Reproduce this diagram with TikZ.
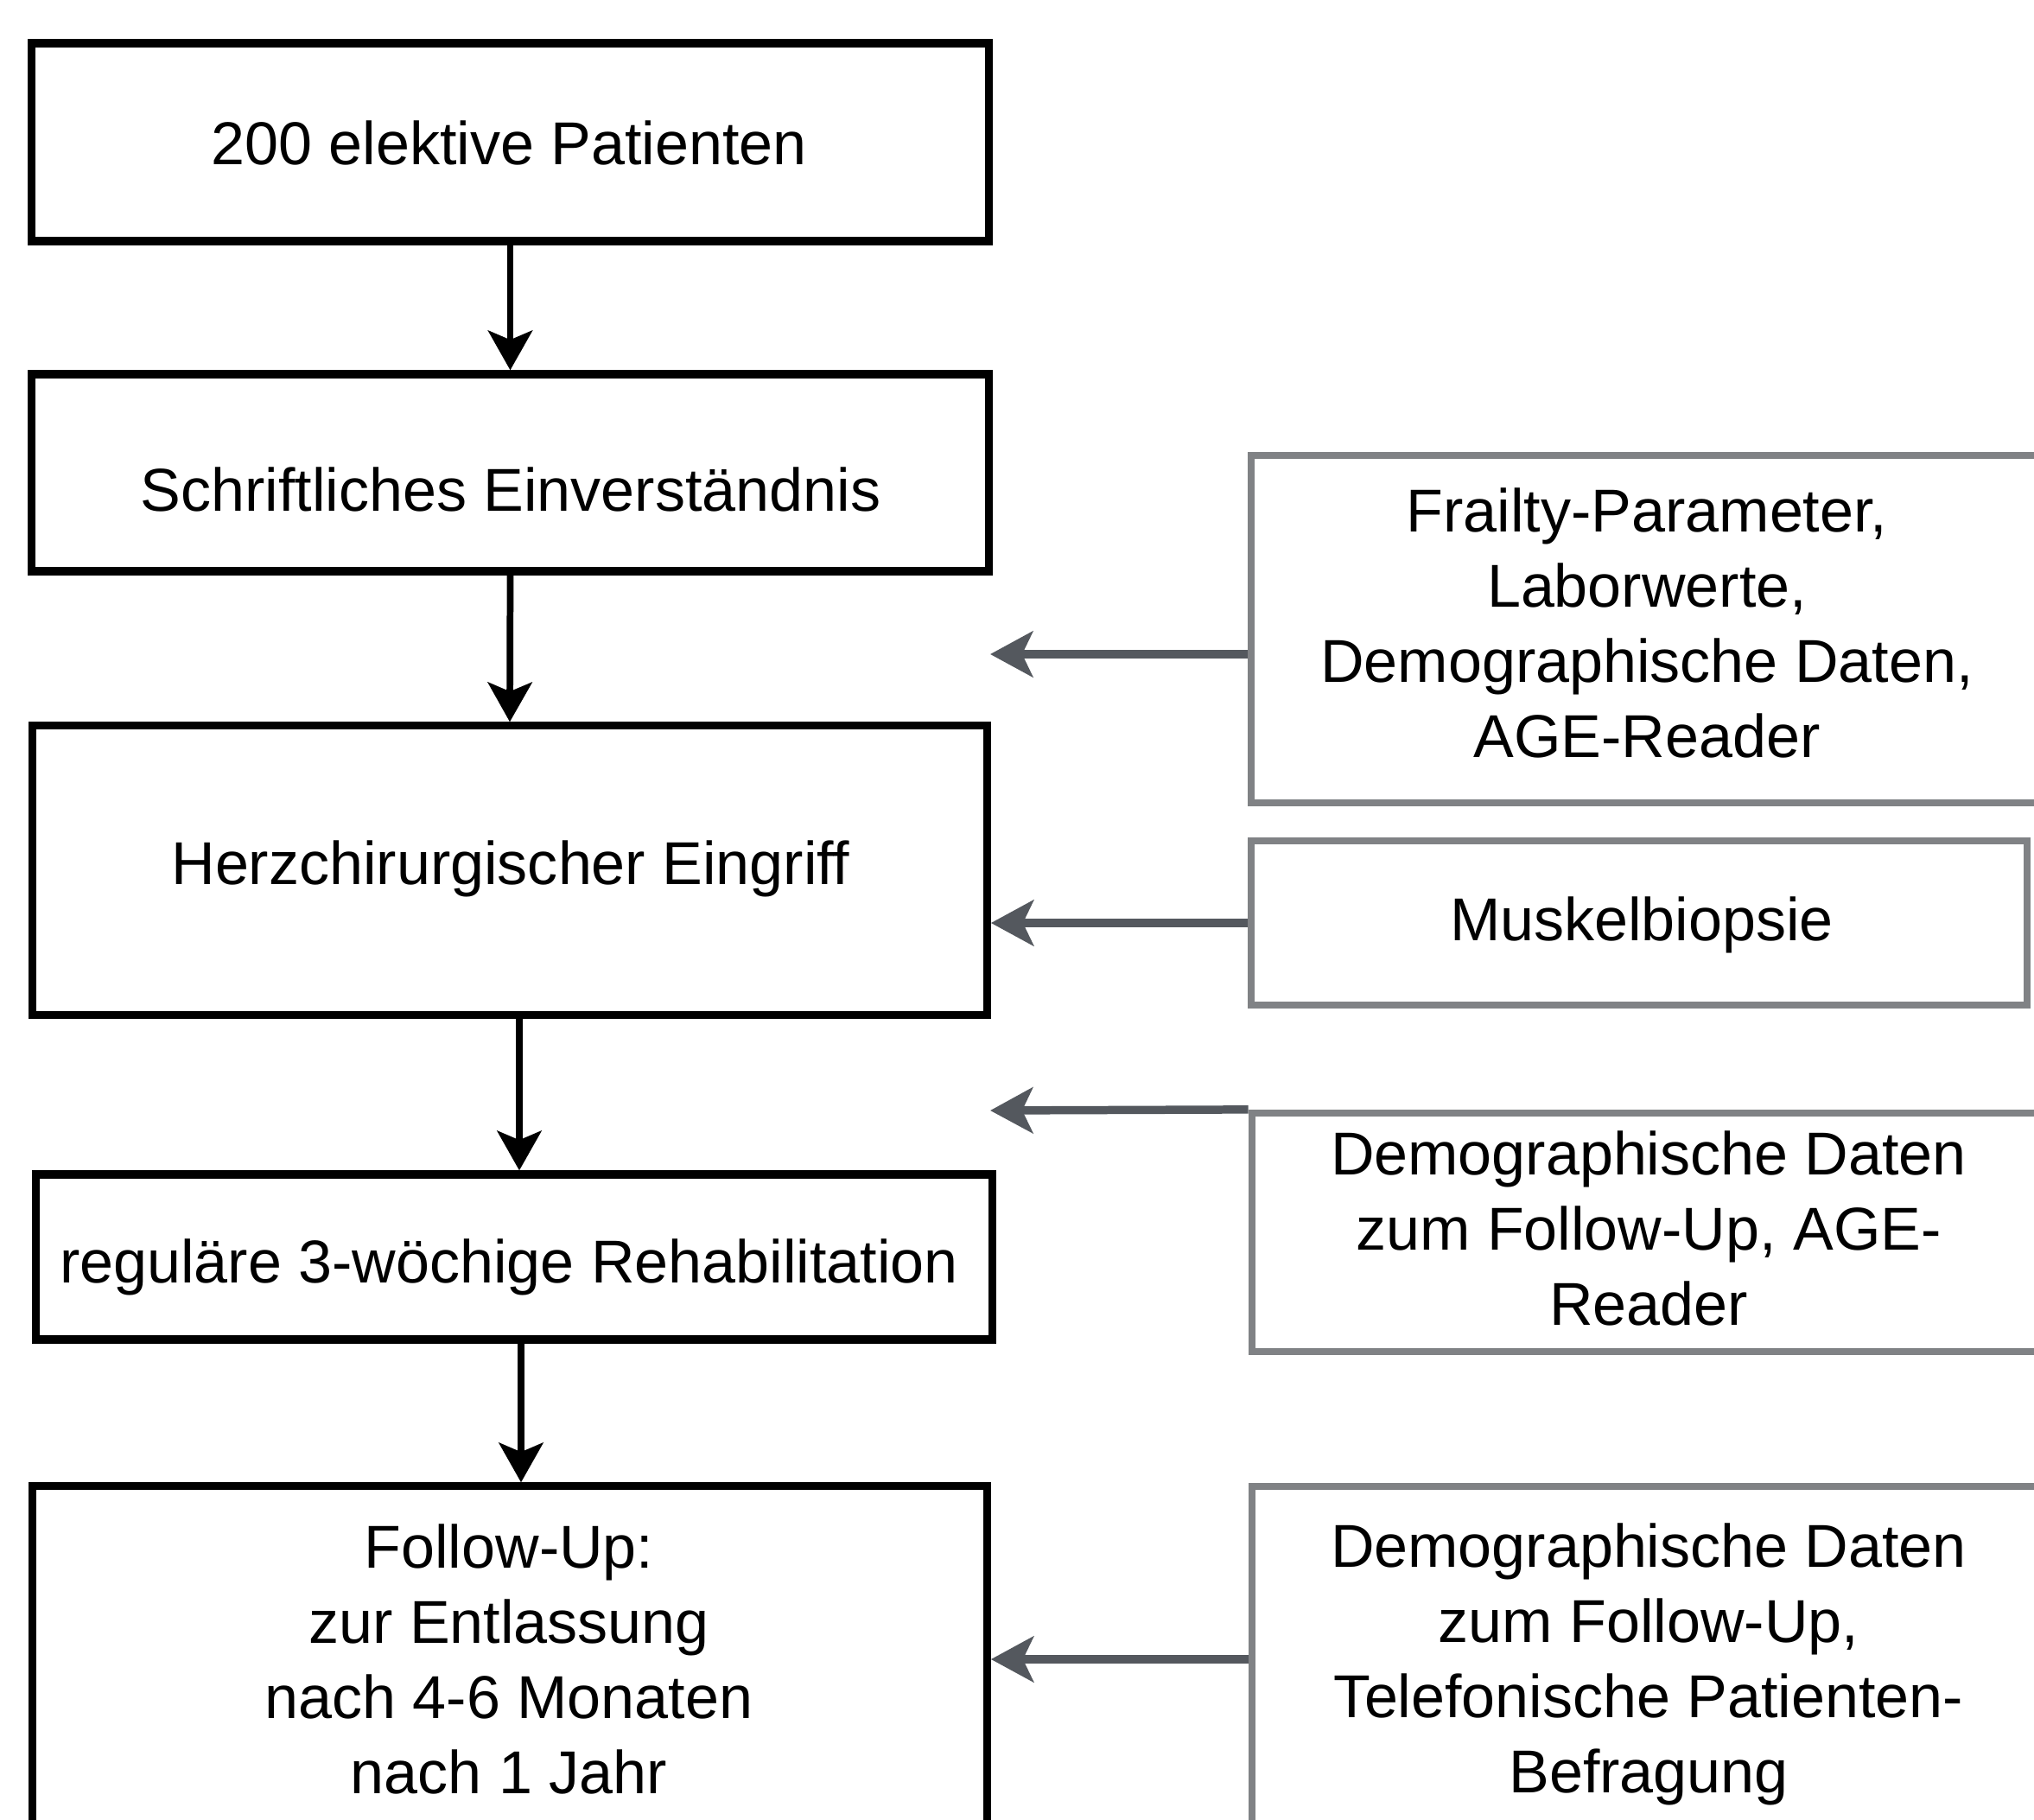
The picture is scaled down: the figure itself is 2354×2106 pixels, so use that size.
\documentclass[tikz,border=0pt]{standalone}
\usepackage{fontspec}
\setmainfont{Liberation Sans}
\usetikzlibrary{arrows.meta}
\definecolor{boxgray}{RGB}{128,130,133}
\definecolor{arrgray}{RGB}{84,88,94}
\begin{document}
\begin{tikzpicture}[x=0.01cm,y=-0.01cm,
  blkbox/.style={draw=black, line width=2.6pt, inner sep=0pt, rectangle},
  grybox/.style={draw=boxgray, line width=2.3pt, inner sep=0pt, rectangle},
  lbl/.style={font=\fontsize{19.92pt}{24.75pt}\selectfont, align=center, inner sep=0pt, text=black},
  blkarrow/.style={draw=black, line width=2.2pt, -{Stealth[length=13pt,width=14.5pt,inset=3pt]}},
  gryarrow/.style={draw=arrgray, line width=2.7pt, -{Stealth[length=14pt,width=15pt,inset=3.5pt]}}
]
\useasboundingbox (0,0) rectangle (2354,2106);
\fill[white] (0,0) rectangle (2354,2106);

% left column boxes
\node[blkbox, minimum width=11.07cm, minimum height=2.29cm] (b1) at (590.5,164.5) {};
\node[blkbox, minimum width=11.07cm, minimum height=2.28cm] (b2) at (590.5,547) {};
\node[blkbox, minimum width=11.04cm, minimum height=3.34cm] (b3) at (590,1007) {};
\node[blkbox, minimum width=11.06cm, minimum height=1.91cm] (b4) at (595,1454.5) {};
\node[blkbox, minimum width=11.04cm, minimum height=4.00cm] (b5) at (590,1920) {};

% right column boxes
\node[grybox, minimum width=9.14cm, minimum height=4.02cm] (r1) at (1905,728) {};
\node[grybox, minimum width=8.98cm, minimum height=1.90cm] (r2) at (1897,1068) {};
\node[grybox, minimum width=9.13cm, minimum height=2.76cm] (r3) at (1905.5,1426) {};
\node[grybox, minimum width=9.13cm, minimum height=4.00cm] (r4) at (1905.5,1920) {};

% texts
\node[lbl] (t1) at (589,165) {200 elektive Patienten};
\node[lbl] (t2) at (591,566) {Schriftliches Einverständnis};
\node[lbl] (t3) at (591,1005) {Herzchirurgischer Eingriff};
\node[lbl] (t4) at (589,1466) {reguläre 3-wöchige Rehabilitation};
\node[lbl] (t5) at (589,1920) {Follow-Up:\\zur Entlassung\\nach 4-6 Monaten\\nach 1 Jahr};
\node[lbl] (s1) at (1906,721) {Frailty-Parameter,\\Laborwerte,\\Demographische Daten,\\AGE-Reader};
\node[lbl] (s2) at (1900,1070) {Muskelbiopsie};
\node[lbl] (s3) at (1908,1421) {Demographische Daten\\zum Follow-Up, AGE-\\Reader};
\node[lbl] (s4) at (1908,1926) {Demographische Daten\\zum Follow-Up,\\Telefonische Patienten-\\Befragung};

% black flow arrows
\draw[blkarrow] (b1.south) -- (b2.north);
\draw[blkarrow] (b2.south) -- (b3.north);
\draw[blkarrow] ([xshift=0.11cm]b3.south) -- ([xshift=0.06cm]b4.north);
\draw[blkarrow] ([xshift=0.08cm]b4.south) -- ([xshift=0.13cm]b5.north);

% gray input arrows
\coordinate (g1) at (1146,757);
\coordinate (g3) at (1146,1285);
\draw[gryarrow] (r1.west |- g1) -- (g1);
\draw[gryarrow] (r2.west) -- (r2.west -| b3.east);
\draw[gryarrow] (r3.north west) -- (g3);
\draw[gryarrow] (r4.west) -- (r4.west -| b5.east);
\end{tikzpicture}
\end{document}
